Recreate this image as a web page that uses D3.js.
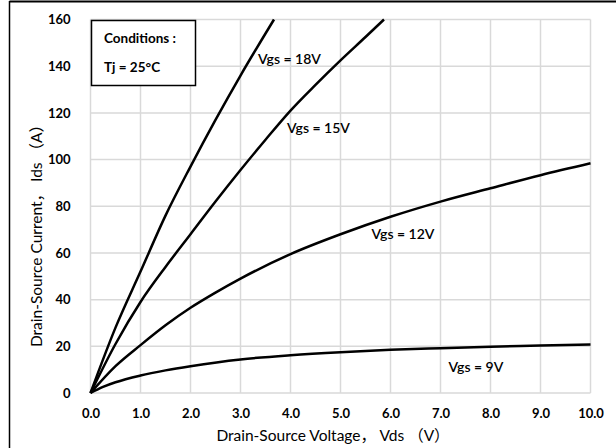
<!DOCTYPE html>
<html>
<head>
<meta charset="utf-8">
<script src="https://cdn.jsdelivr.net/npm/d3@7/dist/d3.min.js"></script>
<style>
  body { margin: 0; background: #fff; }
  svg { display: block; font-family: Lato, "Noto Sans", "Noto Sans CJK SC", sans-serif; }
</style>
</head>
<body>
<svg id="chart" width="616" height="448"></svg>
<script>
// tick labels
const xTicks = [0, 1, 2, 3, 4, 5, 6, 7, 8, 9, 10];
const yTicks = [0, 20, 40, 60, 80, 100, 120, 140, 160];

// curves: [Vds, Ids]
const vgs18 = [[0,0],[0.5,28],[1.0,52],[1.5,76],[2.0,97],[2.5,117],[3.0,136],[3.5,154],[3.67,160]];
const vgs15 = [[0,0],[0.5,21],[1.0,39],[1.5,54],[2.0,68],[2.5,82],[3.0,95.5],[3.5,108.5],[4.0,121],[4.5,132],[5.0,142.5],[5.5,152.5],[5.87,160]];
const vgs12 = [[0,0],[0.5,11.5],[1.0,20.5],[1.5,29],[2.0,36.5],[2.5,43],[3.0,49],[4.0,59.5],[5.0,68],[6.0,75.5],[7.0,82],[8.0,87.7],[9.0,93.3],[10.0,98.4]];
const vgs9  = [[0,0],[0.25,2.6],[0.5,4.6],[1.0,7.5],[1.5,9.7],[2.0,11.5],[3.0,14.4],[4.0,16.2],[5.0,17.5],[6.0,18.5],[7.0,19.2],[8.0,19.8],[9.0,20.3],[10.0,20.8]];

const curveLabels = [
  { text: "Vgs = 18V", v: 3.35, i: 141 },
  { text: "Vgs = 15V", v: 3.93, i: 111.5 },
  { text: "Vgs = 12V", v: 5.62, i: 66 },
  { text: "Vgs = 9V",  v: 7.16, i: 9 }
];

const svg = d3.select("#chart");
const margin = { left: 90.5, right: 25.5, top: 19.5, bottom: 55 };
const W = 616, H = 448;

const x = d3.scaleLinear().domain([0, 10]).range([margin.left, W - margin.right]);
const y = d3.scaleLinear().domain([0, 160]).range([H - margin.bottom, margin.top]);

// outer frame (cropped: only top and left show)
svg.append("line").attr("x1", 9.5).attr("x2", W).attr("y1", 1.5).attr("y2", 1.5)
  .attr("stroke", "#000").attr("stroke-width", 2);
svg.append("line").attr("x1", 9.5).attr("x2", 9.5).attr("y1", 1).attr("y2", H)
  .attr("stroke", "#000").attr("stroke-width", 1.5);

// grid
const grid = svg.append("g").attr("stroke", "#d9d9d9").attr("stroke-width", 1.5);
grid.selectAll("line.v").data(xTicks).enter().append("line")
  .attr("x1", d => x(d)).attr("x2", d => x(d))
  .attr("y1", y(0)).attr("y2", y(160));
grid.selectAll("line.h").data(yTicks).enter().append("line")
  .attr("x1", x(0)).attr("x2", x(10))
  .attr("y1", d => y(d)).attr("y2", d => y(d));

// axes (labels only)
const xAxis = svg.append("g").attr("transform", `translate(0,${y(0)})`)
  .call(d3.axisBottom(x).tickValues(xTicks).tickFormat(d3.format(".1f")).tickSize(0).tickPadding(16));
const yAxis = svg.append("g").attr("transform", `translate(${x(0)},0)`)
  .call(d3.axisLeft(y).tickValues(yTicks).tickSize(0).tickPadding(20));
[xAxis, yAxis].forEach(a => {
  a.select(".domain").remove();
  a.selectAll("text").attr("font-family", "Lato, sans-serif")
    .attr("font-size", 13).attr("font-weight", "bold").attr("fill", "#000");
});

// curves
const line = d3.line().x(d => x(d[0])).y(d => y(d[1])).curve(d3.curveMonotoneX);
[vgs18, vgs15, vgs12, vgs9].forEach(s => {
  svg.append("path").attr("d", line(s))
    .attr("fill", "none").attr("stroke", "#000").attr("stroke-width", 2.5)
    .attr("stroke-linejoin", "round");
});

// curve labels
svg.selectAll("text.lbl").data(curveLabels).enter().append("text")
  .attr("class", "lbl")
  .attr("x", d => x(d.v)).attr("y", d => y(d.i))
  .attr("font-size", 14).attr("font-weight", 600).attr("fill", "#000")
  .text(d => d.text);

// conditions box
svg.append("rect").attr("x", 91.5).attr("y", 20.5).attr("width", 104).attr("height", 65)
  .attr("fill", "#fff").attr("stroke", "#000").attr("stroke-width", 1.5);
svg.append("text").attr("x", 104).attr("y", 43)
  .attr("font-size", 13.5).attr("font-weight", "bold").text("Conditions :");
svg.append("text").attr("x", 104).attr("y", 72)
  .attr("font-size", 13.5).attr("font-weight", "bold").text("Tj = 25°C");

// axis titles
svg.append("text").attr("x", 333).attr("y", 441).attr("text-anchor", "middle")
  .attr("font-size", 15.5).attr("xml:space", "preserve").text("Drain-Source Voltage， Vds （V）");
svg.append("text").attr("transform", "translate(42,232) rotate(-90)").attr("text-anchor", "middle")
  .attr("font-size", 15.5).attr("xml:space", "preserve").text("Drain-Source Current， Ids （A）");
</script>
</body>
</html>
